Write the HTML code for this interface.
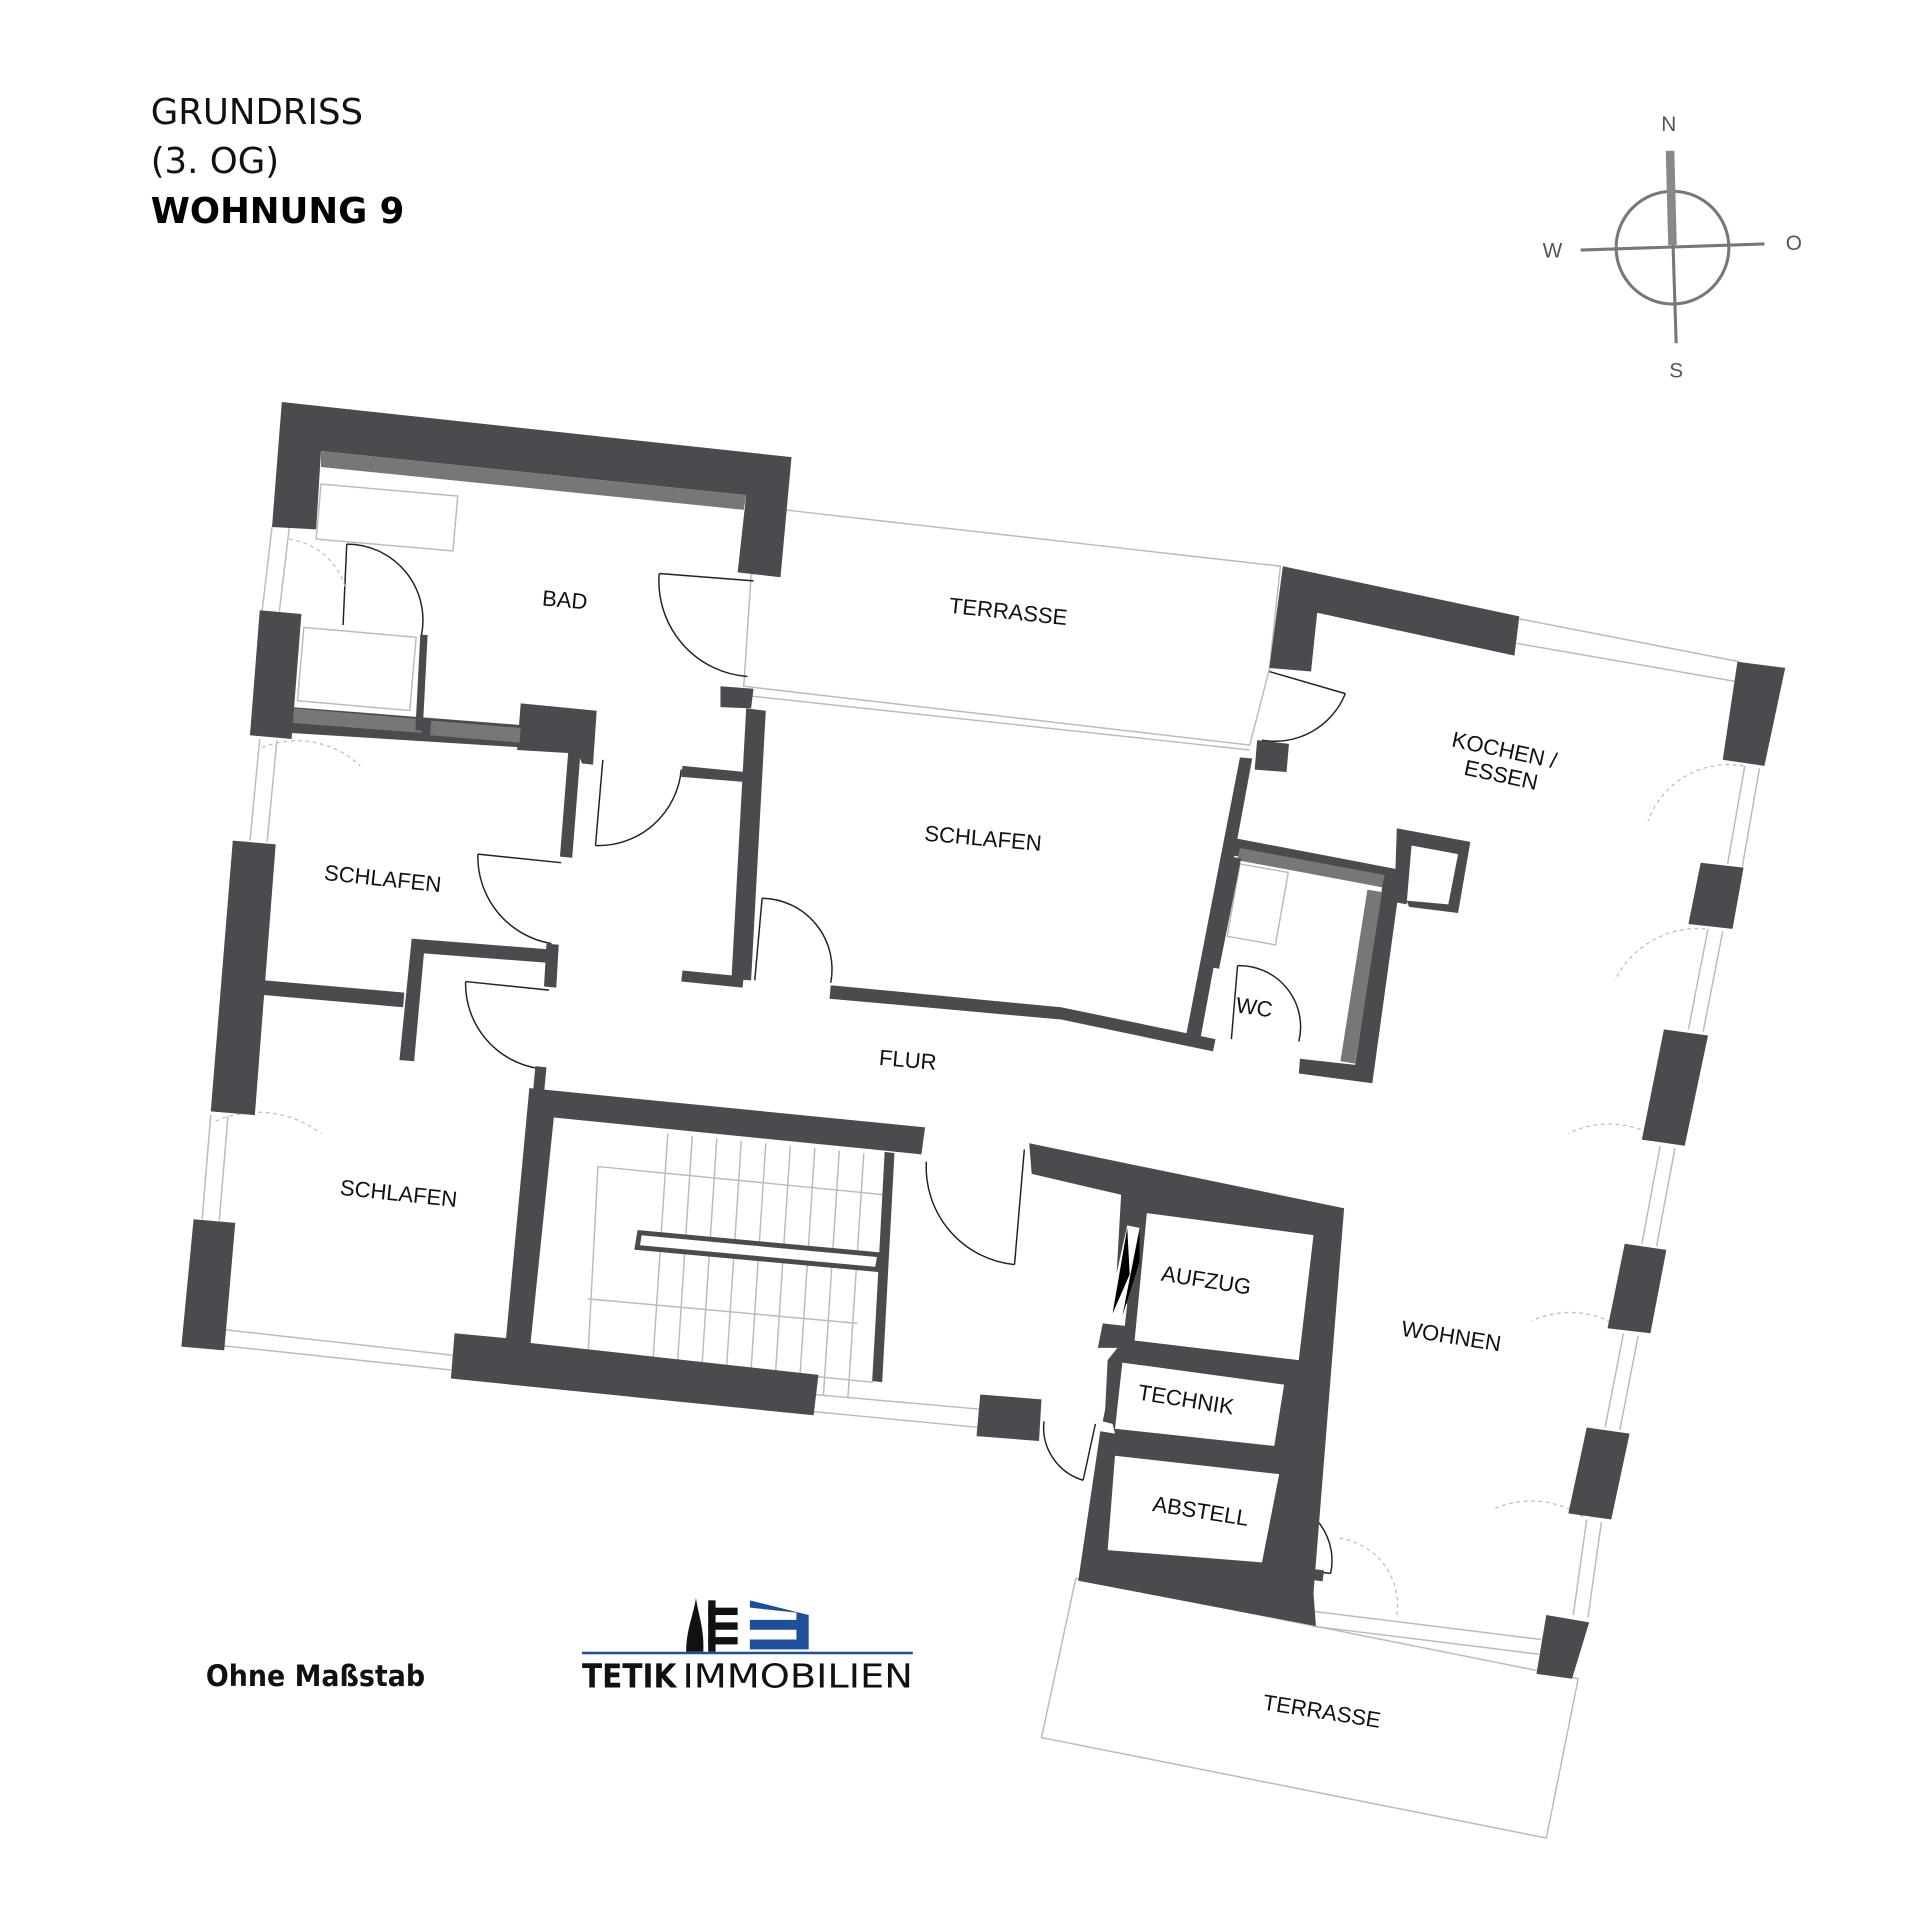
<!DOCTYPE html>
<html><head><meta charset="utf-8"><style>
html,body{margin:0;padding:0;background:#fff;}
svg{display:block;}
text{font-family:"Liberation Sans",sans-serif;}
</style></head><body>
<svg width="1920" height="1919" viewBox="0 0 1567 1566" xmlns="http://www.w3.org/2000/svg">
<rect width="1567" height="1566" fill="#fff"/>
<text x="123" y="101" font-size="29" fill="#111" style="font-family:'DejaVu Sans',sans-serif">GRUNDRISS</text>
<text x="123" y="141" font-size="29" fill="#111" style="font-family:'DejaVu Sans',sans-serif">(3. OG)</text>
<text x="123" y="182" font-size="29" font-weight="bold" fill="#000" style="font-family:'DejaVu Sans',sans-serif">WOHNUNG 9</text>
<g stroke="#777" fill="none" stroke-width="2.5">
<circle cx="1365" cy="202" r="46"/>
<line x1="1290" y1="204" x2="1440" y2="199"/>
<line x1="1363" y1="123" x2="1368" y2="280"/>
</g>
<line x1="1363" y1="123" x2="1365" y2="200" stroke="#888" stroke-width="7"/>
<g font-size="17" fill="#555" text-anchor="middle" style="font-family:'DejaVu Sans',sans-serif">
<text x="1362" y="107">N</text><text x="1267" y="210">W</text><text x="1464" y="204">O</text><text x="1368" y="308">S</text>
</g>
<g stroke="#bbb" fill="none" stroke-width="1.2">
<polygon points="640,416 1045,462 1036,546 1020,608 607,560 613,470"/>
<line x1="613" y1="568" x2="1020" y2="612"/>
<line x1="1240" y1="505" x2="1420" y2="540"/>
<line x1="1238" y1="525" x2="1416" y2="556"/>
<line x1="1072" y1="1315" x2="1258" y2="1338"/>
<line x1="1070" y1="1327" x2="1256" y2="1350"/>
<polygon points="878,1288 850,1418 1262,1500 1288,1370"/>
<line x1="182" y1="1085" x2="370" y2="1106"/>
<line x1="180" y1="1098" x2="368" y2="1118"/>
<line x1="664" y1="1138" x2="800" y2="1150"/>
<line x1="664" y1="1152" x2="800" y2="1165"/>
<line x1="1424" y1="625" x2="1410" y2="705"/><line x1="1436" y1="627" x2="1422" y2="707"/>
<line x1="1394" y1="758" x2="1378" y2="840"/><line x1="1406" y1="760" x2="1390" y2="842"/>
<line x1="1355" y1="935" x2="1340" y2="1015"/><line x1="1367" y1="937" x2="1352" y2="1017"/>
<line x1="1325" y1="1088" x2="1310" y2="1165"/><line x1="1337" y1="1090" x2="1322" y2="1167"/>
<line x1="1295" y1="1240" x2="1284" y2="1318"/><line x1="1307" y1="1242" x2="1296" y2="1320"/>
<line x1="222" y1="430" x2="214" y2="498"/><line x1="236" y1="431" x2="228" y2="499"/>
<line x1="212" y1="603" x2="204" y2="686"/><line x1="226" y1="604" x2="218" y2="687"/>
<line x1="172" y1="910" x2="165" y2="995"/><line x1="186" y1="911" x2="179" y2="996"/>
<rect x="262" y="395" width="112" height="45" transform="rotate(5 262 395)"/>
<rect x="248" y="512" width="92" height="60" transform="rotate(5 248 512)"/>
<rect x="1012" y="705" width="40" height="60" transform="rotate(10 1012 705)"/>
<polygon points="488,952 722,975 712,1128 480,1105"/>
<line x1="480" y1="1060" x2="700" y2="1080"/>
<line x1="545" y1="925" x2="532" y2="1125"/><line x1="565" y1="927" x2="552" y2="1127"/>
<line x1="585" y1="929" x2="572" y2="1129"/><line x1="605" y1="931" x2="592" y2="1131"/>
<line x1="625" y1="933" x2="612" y2="1133"/><line x1="645" y1="935" x2="632" y2="1135"/>
<line x1="665" y1="937" x2="652" y2="1137"/><line x1="685" y1="939" x2="672" y2="1139"/>
<line x1="705" y1="941" x2="692" y2="1141"/>
</g>
<g stroke="#222" fill="none" stroke-width="1.2">
<path d="M538,468 A78,78 0 0 0 610,552"/><line x1="538" y1="468" x2="615" y2="474"/>
<path d="M283,444 A62,62 0 0 1 344,518"/><line x1="283" y1="444" x2="280" y2="510"/>
<path d="M486,690 A68,68 0 0 0 556,628"/><line x1="486" y1="690" x2="492" y2="620"/>
<path d="M390,697 A72,72 0 0 0 450,770"/><line x1="390" y1="697" x2="458" y2="704"/>
<path d="M380,801 A70,70 0 0 0 440,872"/><line x1="380" y1="801" x2="448" y2="808"/>
<path d="M622,733 A58,58 0 0 1 678,802"/><line x1="622" y1="733" x2="616" y2="800"/>
<line x1="1036" y1="548" x2="1098" y2="566"/><path d="M1098,566 A62,62 0 0 1 1030,604"/>
<path d="M1010,788 A50,50 0 0 1 1060,850"/><line x1="1010" y1="788" x2="1005" y2="848"/>
<path d="M756,948 A80,80 0 0 0 828,1032"/><line x1="828" y1="1032" x2="836" y2="938"/>
<path d="M852,1160 A45,45 0 0 0 884,1208"/><line x1="884" y1="1208" x2="894" y2="1162"/>
<path d="M1044,1224 A50,50 0 0 1 1086,1284"/><line x1="1086" y1="1284" x2="1032" y2="1278"/>
</g>
<g stroke="#bbb" fill="none" stroke-width="1" stroke-dasharray="3,3">
<path d="M1423,625 A70,70 0 0 0 1345,670"/><path d="M1392,758 A75,75 0 0 0 1318,800"/>
<path d="M1355,930 A75,75 0 0 0 1280,925"/><path d="M1325,1085 A75,75 0 0 0 1250,1078"/>
<path d="M1292,1238 A75,75 0 0 0 1218,1232"/><path d="M1140,1318 A55,55 0 0 0 1090,1255"/>
<path d="M214,610 A75,75 0 0 1 294,625"/><path d="M176,915 A85,85 0 0 1 262,925"/>
<path d="M236,440 A55,55 0 0 1 282,480"/>
</g>
<g fill="#4b4a4f">
<polygon points="230,328 646,373 637,471 602,467 609,404 262,368 258,432 222,430"/>
<polygon points="212,498 246,501 238,603 204,600"/>
<polygon points="238,577 430,592 428,610 236,598"/>
<polygon points="425,574 487,580 484,624 475,623 472,615 422,612"/>
<polygon points="466,585 476,586 467,700 457,699"/>
<polygon points="190,686 225,689 208,910 172,907"/>
<polygon points="216,800 330,810 329,822 215,812"/>
<polygon points="336,766 452,775 451,786 346,778 338,866 326,865"/>
<polygon points="446,770 456,771 454,806 444,805"/>
<polygon points="158,995 192,998 183,1102 148,1099"/>
<polygon points="588,560 615,562 613,578 588,577"/>
<polygon points="557,625 608,630 607,638 556,634"/>
<polygon points="609,578 625,580 613,800 597,799"/>
<polygon points="557,792 607,797 606,806 556,801"/>
<polygon points="678,804 866,822 992,848 990,858 866,832 677,815"/>
<polygon points="1012,618 1022,619 980,846 968,845"/>
<polygon points="1026,604 1052,607 1050,630 1024,628"/>
<polygon points="1047,462 1240,503 1236,535 1075,500 1070,548 1036,545"/>
<polygon points="1418,540 1457,545 1440,625 1406,620"/>
<polygon points="1388,704 1423,708 1414,758 1378,754"/>
<polygon points="1358,840 1394,845 1375,935 1340,930"/>
<polygon points="1326,1015 1360,1020 1347,1088 1312,1084"/>
<polygon points="1295,1165 1330,1170 1315,1240 1280,1235"/>
<polygon points="1262,1318 1297,1324 1283,1370 1254,1366"/>
<polygon points="1008,684 1144,710 1120,884 1060,876 1061,864 1106,869 1128,724 1006,698"/>
<polygon points="1140,676 1200,687 1190,745 1150,740 1148,735 1182,738 1190,697 1152,690 1148,738 1138,736"/>
<polygon points="432,888 755,920 752,942 452,912 433,1096 668,1122 664,1155 368,1125 371,1088 413,1092"/>
<polygon points="437,870 446,871 444,892 435,891"/>
<polygon points="800,1138 850,1142 848,1176 797,1172"/>
<polygon points="840,933 1097,986 1072,1300 1074,1327 880,1290 898,1168 910,1170 908,1162 900,1160 902,1150 904,1110 912,1100 896,1100 900,1080 918,1082 920,1064 910,1062 915,975 842,958"/>
</g>
<g fill="#fff">
<polygon points="936,990 1072,1008 1060,1110 926,1094"/>
<polygon points="916,1112 1048,1130 1040,1180 910,1166"/>
<polygon points="910,1188 1044,1203 1030,1275 904,1265"/>
</g>
<g stroke="#4b4a4f" stroke-width="9" fill="none">
<line x1="1030" y1="1280" x2="1080" y2="1286"/>
</g>
<g fill="#777">
<polygon points="262,368 609,404 607,416 262,381"/>
<polygon points="240,578 345,587 344,598 239,590"/>
<polygon points="352,588 425,594 424,606 351,600"/>
<polygon points="1012,692 1130,714 1128,724 1010,702"/>
<polygon points="1116,726 1128,728 1106,868 1094,866"/>
</g>
<g stroke="#4b4a4f" stroke-width="6" fill="none">
<line x1="346" y1="518" x2="342" y2="596"/>
<line x1="1010" y1="700" x2="992" y2="790"/>
</g>
<polygon points="522,1006 718,1024 716,1036 520,1018" fill="#fff" stroke="#4b4a4f" stroke-width="4"/>
<polygon points="722,940 730,941 720,1128 712,1127" fill="#4b4a4f"/>
<polygon points="920,1000 930,1002 916,1074 904,1072" fill="#fff"/>
<path d="M920,1002 L908,1072 L922,1040 Z M930,1004 L916,1074 L930,1030 Z" fill="#000"/>
<g font-size="18" fill="#111">
<text x="442" y="494" transform="rotate(5 442 494)">BAD</text>
<text x="774" y="500" transform="rotate(6 774 500)">TERRASSE</text>
<text x="1184" y="609" transform="rotate(12 1184 609)">KOCHEN /</text>
<text x="1194" y="632" transform="rotate(12 1194 632)">ESSEN</text>
<text x="754" y="686" transform="rotate(5 754 686)">SCHLAFEN</text>
<text x="264" y="718" transform="rotate(6 264 718)">SCHLAFEN</text>
<text x="1008" y="826" transform="rotate(8 1008 826)">WC</text>
<text x="717" y="869" transform="rotate(5 717 869)">FLUR</text>
<text x="277" y="975" transform="rotate(6 277 975)">SCHLAFEN</text>
<text x="947" y="1045" transform="rotate(9 947 1045)">AUFZUG</text>
<text x="1143" y="1090" transform="rotate(9 1143 1090)">WOHNEN</text>
<text x="928" y="1142" transform="rotate(9 928 1142)">TECHNIK</text>
<text x="940" y="1233" transform="rotate(9 940 1233)">ABSTELL</text>
<text x="1030" y="1395" transform="rotate(9 1030 1395)">TERRASSE</text>
</g>
<text x="168" y="1376" font-size="24" font-weight="bold" fill="#111" textLength="179" lengthAdjust="spacingAndGlyphs" style="font-family:'DejaVu Sans',sans-serif">Ohne Maßstab</text>
<g>
<path d="M560,1348 C560,1330 566,1318 568,1304 C570,1318 575,1330 574,1348 Z" fill="#111"/>
<rect x="578" y="1312" width="24" height="6" fill="#111"/>
<rect x="578" y="1324" width="24" height="6" fill="#111"/>
<rect x="578" y="1336" width="24" height="6" fill="#111"/>
<rect x="578" y="1306" width="6" height="42" fill="#111"/>
<path d="M612,1306 L660,1318 L660,1346 L612,1346 L612,1338 L650,1338 L650,1330 L612,1330 L612,1322 L650,1322 L650,1316 L612,1312 Z" fill="#1d4f9c"/>
<line x1="475" y1="1349" x2="745" y2="1349" stroke="#1d4f9c" stroke-width="2"/>
<text x="475" y="1377" font-size="27" font-weight="bold" fill="#111" textLength="77" lengthAdjust="spacingAndGlyphs" style="font-family:'DejaVu Sans',sans-serif">TETIK</text>
<text x="557" y="1377" font-size="27" fill="#111" textLength="188" lengthAdjust="spacingAndGlyphs" style="font-family:'DejaVu Sans',sans-serif">IMMOBILIEN</text>
</g>
</svg>
</body></html>
